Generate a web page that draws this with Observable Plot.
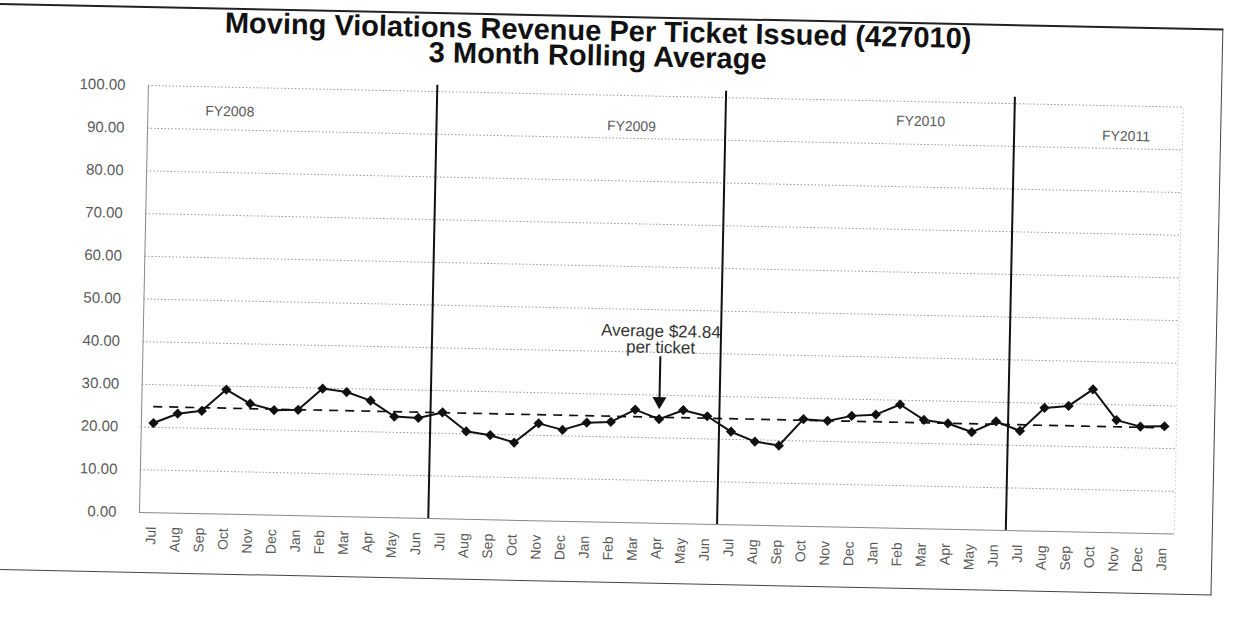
<!DOCTYPE html>
<html>
<head>
<meta charset="utf-8">
<script src="https://cdn.jsdelivr.net/npm/d3@7"></script>
<script src="https://cdn.jsdelivr.net/npm/@observablehq/plot@0.6"></script>
<style>
  html, body { margin: 0; padding: 0; background: #fff; }
  body { width: 1236px; height: 624px; overflow: hidden; position: relative; font-family: 'Liberation Sans', Arial, sans-serif; }
  #wrap { position: absolute; left: 0; top: 0; width: 1236px; height: 624px; transform: rotate(1.2deg); transform-origin: 143px 512px; }
  #border { position: absolute; left: -30px; top: 6px; width: 1243px; height: 567px; box-sizing: border-box; border: 1.5px solid #444; border-top: 2.5px solid #222; }
  #title { position: absolute; left: 0; top: 9px; width: 1176px; text-align: center; font: bold 29px 'Liberation Sans', Arial, sans-serif; line-height: 25px; color: #111; }
  #chart { position: absolute; left: 0; top: 0; }
</style>
</head>
<body>
<div id="wrap">
  <div id="border"></div>
  <div id="chart"></div>
  <div id="title">Moving Violations Revenue Per Ticket Issued (427010)<br>3 Month Rolling Average</div>
</div>
<script>
// ---- data ----
const monthLabels = [
  "Jul","Aug","Sep","Oct","Nov","Dec","Jan","Feb","Mar","Apr","May","Jun",
  "Jul","Aug","Sep","Oct","Nov","Dec","Jan","Feb","Mar","Apr","May","Jun",
  "Jul","Aug","Sep","Oct","Nov","Dec","Jan","Feb","Mar","Apr","May","Jun",
  "Jul","Aug","Sep","Oct","Nov","Dec","Jan"
];
const revenuePerTicket = [
  21.0, 23.3, 24.1, 29.2, 26.0, 24.6, 24.8, 29.9, 29.2, 27.3, 23.7, 23.5,
  24.9, 20.6, 19.8, 18.2, 22.8, 21.4, 23.2, 23.5, 26.5, 24.4, 26.6, 25.3,
  21.8, 19.6, 18.8, 25.1, 24.8, 26.1, 26.5, 29.0, 25.5, 24.8, 22.9, 25.5,
  23.4, 28.9, 29.5, 33.5, 26.4, 25.0, 25.2
];
const averageValue = [24.84];
const yTicks = [0, 10, 20, 30, 40, 50, 60, 70, 80, 90, 100];
const fiscalYears = ["FY2008", "FY2009", "FY2010", "FY2011"];
const fiscalYearStartIndex = [12, 24, 36];
const fyLabelIndex = [2.9, 19.6, 31.6, 40.15];
const fyLabelValue = [94.3, 92.8, 95.4, 92.9];
const annotationText = ["Average $24.84\nper ticket"];
const annotationIndex = [21];
const annotationValue = [43.0];
const arrowFrom = [39.0];
const arrowTo = [28.6];

// ---- build table ----
const data = revenuePerTicket.map((v, i) => ({ i, v, month: monthLabels[i] }));
const idx = d3.range(monthLabels.length);

const chart = Plot.plot({
  width: 1236,
  height: 600,
  marginTop: 85,
  marginBottom: 88,
  marginLeft: 139,
  marginRight: 62,
  style: { fontFamily: "'Liberation Sans', Arial, sans-serif", background: "transparent", overflow: "visible" },
  x: { domain: [-0.5, monthLabels.length - 0.5], axis: null },
  y: { domain: [0, 100], axis: null },
  marks: [
    // gridlines
    Plot.ruleY(yTicks.filter(d => d > 0), { stroke: "#999", strokeWidth: 1, strokeDasharray: "1.5,2" }),
    // right dotted border
    Plot.ruleX([monthLabels.length - 0.5], { y1: 0, y2: 100, stroke: "#aaa", strokeDasharray: "1,3" }),
    // axes lines
    Plot.ruleX([-0.5], { y1: 0, y2: 100, stroke: "#888" }),
    Plot.ruleY([0], { stroke: "#888" }),
    Plot.axisY({ ticks: yTicks, tickFormat: d3.format(".2f"), tickSize: 0, tickPadding: 23, fontSize: 15, fill: "#5a5a5a", label: null }),
    Plot.axisX({ ticks: idx, tickFormat: i => monthLabels[i], tickRotate: -90, tickSize: 0, tickPadding: 14, fontSize: 14, fill: "#5a5a5a", label: null }),
    // fiscal year dividers
    Plot.ruleX(fiscalYearStartIndex, { x: d => d - 0.5, y1: 0, y2: 101.5, stroke: "#111", strokeWidth: 2 }),
    // FY labels
    Plot.text(fiscalYears, { x: (d, i) => fyLabelIndex[i], y: (d, i) => fyLabelValue[i], text: d => d, fontSize: 14, fill: "#5a5a5a" }),
    // average line
    Plot.ruleY(averageValue, { x1: 0, x2: monthLabels.length - 1, stroke: "#111", strokeWidth: 1.7, strokeDasharray: "9,7" }),
    // data line and markers
    Plot.line(data, { x: "i", y: "v", stroke: "#111", strokeWidth: 2 }),
    Plot.dot(data, { x: "i", y: "v", symbol: "diamond2", r: 4.6, fill: "#111", stroke: "none" }),
    // annotation
    Plot.text(annotationText, { x: (d, i) => annotationIndex[i], y: (d, i) => annotationValue[i], text: d => d, fontSize: 17, fill: "#333", lineHeight: 0.95 }),
    Plot.ruleX(annotationIndex, { x: d => d, y1: (d, i) => arrowFrom[i], y2: (d, i) => arrowTo[i], stroke: "#111", strokeWidth: 2 }),
    Plot.dot(annotationIndex, { x: d => d, y: (d, i) => arrowTo[i], symbol: "triangle", rotate: 180, r: 5.2, fill: "#111", stroke: "none" })
  ]
});
document.getElementById("chart").appendChild(chart);
</script>
</body>
</html>
